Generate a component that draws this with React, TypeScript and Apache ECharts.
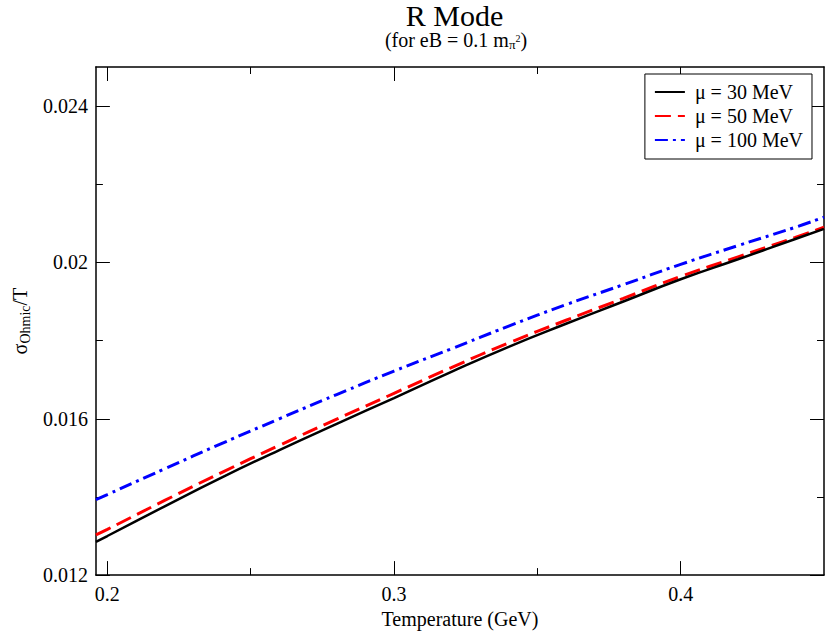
import React, { useEffect, useRef } from "react";
import * as echarts from "echarts";

const temps = [0.196, 0.2, 0.22, 0.24, 0.26, 0.28, 0.3, 0.32, 0.34, 0.36, 0.38, 0.4, 0.42, 0.44, 0.45];
const mu30 = [0.01285, 0.013, 0.01376, 0.0145, 0.0152, 0.01587, 0.01653, 0.0172, 0.01784, 0.01843, 0.019, 0.01957, 0.02008, 0.0206, 0.02086];
const mu50 = [0.01303, 0.01317, 0.01391, 0.01463, 0.01532, 0.01599, 0.01665, 0.01731, 0.01794, 0.01852, 0.01908, 0.01964, 0.02014, 0.02064, 0.0209];
const mu100 = [0.01393, 0.01406, 0.01472, 0.01537, 0.016, 0.01662, 0.01722, 0.01779, 0.01837, 0.01892, 0.01943, 0.01995, 0.02043, 0.0209, 0.02116];
const seriesNames = ["μ = 30 MeV", "μ = 50 MeV", "μ = 100 MeV"];
const xMajor = [0.2, 0.3, 0.4];
const xMinor = [0.25, 0.35];
const yMajor = [0.012, 0.016, 0.02, 0.024];
const yMinor = [0.014, 0.018, 0.022];

const FONT = "Liberation Serif";

export default function App() {
  const ref = useRef<HTMLDivElement>(null);
  useEffect(() => {
    if (!ref.current) return;
    const chart = echarts.init(ref.current, undefined, { renderer: "svg" });
    const xmin = 0.196, xmax = 0.45, ymin = 0.012, ymax = 0.025;
    const fmt = (v: number) => String(+v.toFixed(3));
    const lab = { fontSize: 20, fontFamily: FONT, color: "#000" };
    const mkX = (pos: "bottom" | "top", ticks: number[], len: number, main: boolean) => ({
      type: "value",
      position: pos,
      min: xmin,
      max: xmax,
      axisLine: { show: main, onZero: false, lineStyle: { color: "#000", width: 1.5 } },
      axisTick: { show: true, inside: true, length: len, customValues: ticks, lineStyle: { color: "#000", width: 1 } },
      axisLabel: main && pos === "bottom"
        ? { show: true, customValues: xMajor, formatter: fmt, ...lab, margin: 9 }
        : { show: false },
      splitLine: { show: false },
      ...(main && pos === "bottom"
        ? { name: "Temperature (GeV)", nameLocation: "middle", nameGap: 29, nameTextStyle: { fontSize: 20, fontFamily: FONT, color: "#000" } }
        : {}),
    });
    const mkY = (pos: "left" | "right", ticks: number[], len: number, main: boolean) => ({
      type: "value",
      position: pos,
      min: ymin,
      max: ymax,
      axisLine: { show: main, onZero: false, lineStyle: { color: "#000", width: 1.5 } },
      axisTick: { show: true, inside: true, length: len, customValues: ticks, lineStyle: { color: "#000", width: 1 } },
      axisLabel: main && pos === "left"
        ? { show: true, customValues: yMajor, formatter: fmt, ...lab, margin: 8 }
        : { show: false },
      splitLine: { show: false },
      ...(main && pos === "left"
        ? {
            name: "{s|σ}{o|Ohmic}{s|/T}",
            nameLocation: "middle",
            nameGap: 59,
            nameTextStyle: {
              color: "#000",
              fontFamily: FONT,
              rich: {
                s: { fontSize: 20, fontFamily: FONT, color: "#000", verticalAlign: "middle", lineHeight: 22 },
                o: { fontSize: 14, fontFamily: FONT, color: "#000", verticalAlign: "middle", lineHeight: 14, padding: [10, 0, 0, 0] },
              },
            },
          }
        : {}),
    });
    const colors = ["#000000", "#ff0000", "#0000ff"];
    const dashes: any[] = ["solid", [16, 7], [13, 5, 3, 5]];
    const widths = [2.5, 3, 3];
    const datas = [mu30, mu50, mu100];
    chart.setOption({
      animation: false,
      backgroundColor: "#fff",
      textStyle: { fontFamily: FONT },
      grid: { left: 85, right: 4, top: 67, bottom: 50, containLabel: false },
      title: [
        {
          text: "R Mode",
          left: 454.5,
          top: 0,
          padding: 0,
          textAlign: "center",
          textStyle: { fontSize: 30, fontFamily: FONT, color: "#000", fontWeight: "normal", lineHeight: 30 },
        },
        {
          text: "{a|(for eB = 0.1 m}{sub|π}{sup|2}{a|)}",
          left: 456,
          top: 30,
          padding: 0,
          textAlign: "center",
          textStyle: {
            fontFamily: FONT,
            fontWeight: "normal",
            color: "#000",
            rich: {
              a: { fontSize: 20, fontFamily: FONT, color: "#000", lineHeight: 20, verticalAlign: "middle" },
              sub: { fontSize: 13, fontFamily: FONT, color: "#000", lineHeight: 13, padding: [9, 0, 0, 0], verticalAlign: "middle" },
              sup: { fontSize: 10, fontFamily: FONT, color: "#000", lineHeight: 10, padding: [0, 0, 3, 0], verticalAlign: "middle" },
            },
          },
        },
      ],
      legend: {
        orient: "vertical",
        right: 16,
        top: 74,
        padding: [8, 9, 9, 9],
        itemGap: 4,
        itemWidth: 30,
        itemHeight: 14,
        borderColor: "#000",
        borderWidth: 1,
        borderRadius: 0,
        backgroundColor: "#fff",
        data: seriesNames,
        itemStyle: { opacity: 0, borderWidth: 0 },
        textStyle: { fontSize: 20, fontFamily: FONT, color: "#000", lineHeight: 20, padding: [0, 0, 0, 5] },
      },
      xAxis: [
        mkX("bottom", xMajor, 14, true),
        mkX("bottom", xMinor, 7, false),
        mkX("top", xMajor, 14, true),
        mkX("top", xMinor, 7, false),
      ],
      yAxis: [
        mkY("left", yMajor, 14, true),
        mkY("left", yMinor, 7, false),
        mkY("right", yMajor, 14, true),
        mkY("right", yMinor, 7, false),
      ],
      series: datas.map((d, i) => ({
        name: seriesNames[i],
        type: "line",
        xAxisIndex: 0,
        yAxisIndex: 0,
        data: temps.map((t, j) => [t, d[j]]),
        smooth: true,
        symbol: "none",
        color: colors[i],
        lineStyle: { color: colors[i], width: widths[i], type: dashes[i] },
        z: 3 - i + 2,
      })),
    });
    return () => chart.dispose();
  }, []);
  return <div ref={ref} style={{ position: "fixed", left: 0, top: 0, width: 828, height: 634 }} />;
}
